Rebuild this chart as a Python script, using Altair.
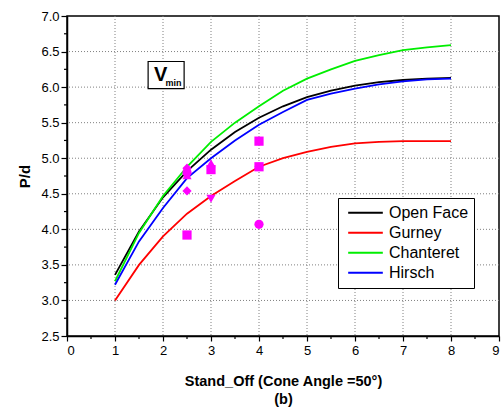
import altair as alt
import pandas as pd

# ---- data ----
stand_off = [1, 1.5, 2, 2.5, 3, 3.5, 4, 4.5, 5, 5.5, 6, 6.5, 7, 7.5, 8]
open_face = [3.36, 3.97, 4.45, 4.82, 5.12, 5.37, 5.57, 5.73, 5.86, 5.95, 6.02, 6.07, 6.10, 6.12, 6.13]
gurney = [3.00, 3.50, 3.90, 4.22, 4.47, 4.68, 4.88, 5.00, 5.09, 5.16, 5.21, 5.23, 5.24, 5.24, 5.24]
chanteret = [3.27, 3.95, 4.47, 4.88, 5.23, 5.50, 5.73, 5.95, 6.12, 6.25, 6.37, 6.45, 6.52, 6.56, 6.59]
hirsch = [3.22, 3.83, 4.30, 4.72, 5.00, 5.25, 5.47, 5.65, 5.82, 5.91, 5.98, 6.04, 6.08, 6.11, 6.12]
series_names = ["Open Face", "Gurney", "Chanteret", "Hirsch"]
series_colors = ["#000000", "#ff0000", "#00ee00", "#0000ff"]

exp_x = [2.5, 2.5, 2.5, 2.5, 2.5, 3, 3, 3, 4, 4, 4, 4]
exp_y = [4.86, 4.80, 4.76, 4.54, 3.92, 4.93, 4.84, 4.43, 5.24, 4.88, 4.88, 4.07]
exp_shape = ["diamond", "circle", "triangle-up", "diamond", "square", "triangle-up",
             "square", "triangle-down", "square", "diamond", "square", "circle"]

x_major = [0, 1, 2, 3, 4, 5, 6, 7, 8, 9]
y_major = [2.5, 3.0, 3.5, 4.0, 4.5, 5.0, 5.5, 6.0, 6.5, 7.0]
x_minor = [0.5, 1.5, 2.5, 3.5, 4.5, 5.5, 6.5, 7.5, 8.5]
y_minor = [2.75, 3.25, 3.75, 4.25, 4.75, 5.25, 5.75, 6.25, 6.75]
x_grid = [1, 2, 3, 4, 5, 6, 7, 8]
y_grid = [3.0, 3.5, 4.0, 4.5, 5.0, 5.5, 6.0, 6.5]

FONT = "Liberation Sans"

rows = []
for name, vals in zip(series_names, [open_face, gurney, chanteret, hirsch]):
    for xv, yv in zip(stand_off, vals):
        rows.append({"x": xv, "y": yv, "series": name})
lines_df = pd.DataFrame(rows)
pts_df = pd.DataFrame({"x": exp_x, "y": exp_y, "shape": exp_shape})

xscale = alt.Scale(domain=[0, 9], nice=False, zero=False)
yscale = alt.Scale(domain=[2.5, 7.0], nice=False, zero=False)

xaxis = alt.Axis(
    values=x_major,
    format="d",
    labelOverlap=False,
    title=["Stand_Off (Cone Angle =50\u00b0)", "(b)"],
    titleFont=FONT, titleFontSize=14.5, titleFontWeight="bold", titleColor="black",
    titleLineHeight=18, titlePadding=17,
    labelFont=FONT, labelFontSize=13, labelColor="black", labelPadding=3,
    domainColor="black", domainWidth=1.5,
    tickColor="black", tickWidth=1.2, tickSize=5,
    grid=False,
)
yaxis = alt.Axis(
    values=y_major,
    format=".1f",
    labelOverlap=False,
    title="P/d",
    titleFont=FONT, titleFontSize=15, titleFontWeight="bold", titleColor="black",
    titlePadding=8,
    labelFont=FONT, labelFontSize=13, labelColor="black", labelPadding=2,
    domainColor="black", domainWidth=1.5,
    tickColor="black", tickWidth=1.2, tickSize=6,
    grid=False,
)

X = lambda f: alt.X(f, scale=xscale, axis=xaxis)
Y = lambda f: alt.Y(f, scale=yscale, axis=yaxis)

grid_x = alt.Chart(pd.DataFrame({"g": x_grid})).mark_rule(
    color="#808080", strokeWidth=1, strokeDash=[1, 2]
).encode(x=X("g:Q"))
grid_y = alt.Chart(pd.DataFrame({"g": y_grid})).mark_rule(
    color="#808080", strokeWidth=1, strokeDash=[1, 2]
).encode(y=Y("g:Q"))

# minor ticks (outside the plot, like the major ticks but shorter)
minor_x = alt.Chart(pd.DataFrame({"m": x_minor})).mark_rule(
    color="black", strokeWidth=1.2
).encode(x=X("m:Q"), y=alt.value(320), y2=alt.value(323))
minor_y = alt.Chart(pd.DataFrame({"m": y_minor})).mark_rule(
    color="black", strokeWidth=1.2
).encode(y=Y("m:Q"), x=alt.value(-3), x2=alt.value(0))

lines = alt.Chart(lines_df).mark_line(strokeWidth=1.8).encode(
    x=X("x:Q"),
    y=Y("y:Q"),
    color=alt.Color(
        "series:N",
        scale=alt.Scale(domain=series_names, range=series_colors),
        sort=series_names,
        legend=alt.Legend(
            title=None, orient="none", legendX=271, legendY=182,
            symbolType="stroke", symbolSize=1200, symbolStrokeWidth=2,
            symbolOffset=4, clipHeight=19.5,
            labelFont=FONT, labelFontSize=16, labelColor="black",
            strokeColor="black", fillColor="white", padding=5,
            rowPadding=0, labelOffset=5,
        ),
    ),
    detail="series:N",
)

points = alt.Chart(pts_df).mark_point(filled=True, opacity=1, color="#ff00ff", size=85).encode(
    x=X("x:Q"),
    y=Y("y:Q"),
    shape=alt.Shape("shape:N", scale=None),
)

# V_min annotation box
box_df = pd.DataFrame({"x": [1.69], "x2": [2.44], "y": [6.36], "y2": [5.98]})
box = alt.Chart(box_df).mark_rect(fill="white", stroke="black", strokeWidth=1.2).encode(
    x=X("x:Q"), x2="x2:Q", y=Y("y:Q"), y2="y2:Q"
)
v_df = pd.DataFrame({"x": [1.95], "y": [6.17], "t": ["V"]})
v_text = alt.Chart(v_df).mark_text(font=FONT, fontSize=20, fontWeight="bold", color="black").encode(
    x=X("x:Q"), y=Y("y:Q"), text="t:N"
)
sub_df = pd.DataFrame({"x": [2.22], "y": [6.06], "t": ["min"]})
sub_text = alt.Chart(sub_df).mark_text(font=FONT, fontSize=9, fontWeight="bold", color="black").encode(
    x=X("x:Q"), y=Y("y:Q"), text="t:N"
)

chart = alt.layer(grid_x, grid_y, minor_x, minor_y, lines, box, v_text, sub_text, points).properties(
    width=432, height=320,
    background="white",
    autosize=alt.AutoSizeParams(type="none"),
    padding={"left": 67, "top": 16, "right": 3, "bottom": 74},
).configure_view(stroke="black", strokeWidth=1.5)

chart.save("out.html", embed_options={"renderer": "svg", "actions": False})
